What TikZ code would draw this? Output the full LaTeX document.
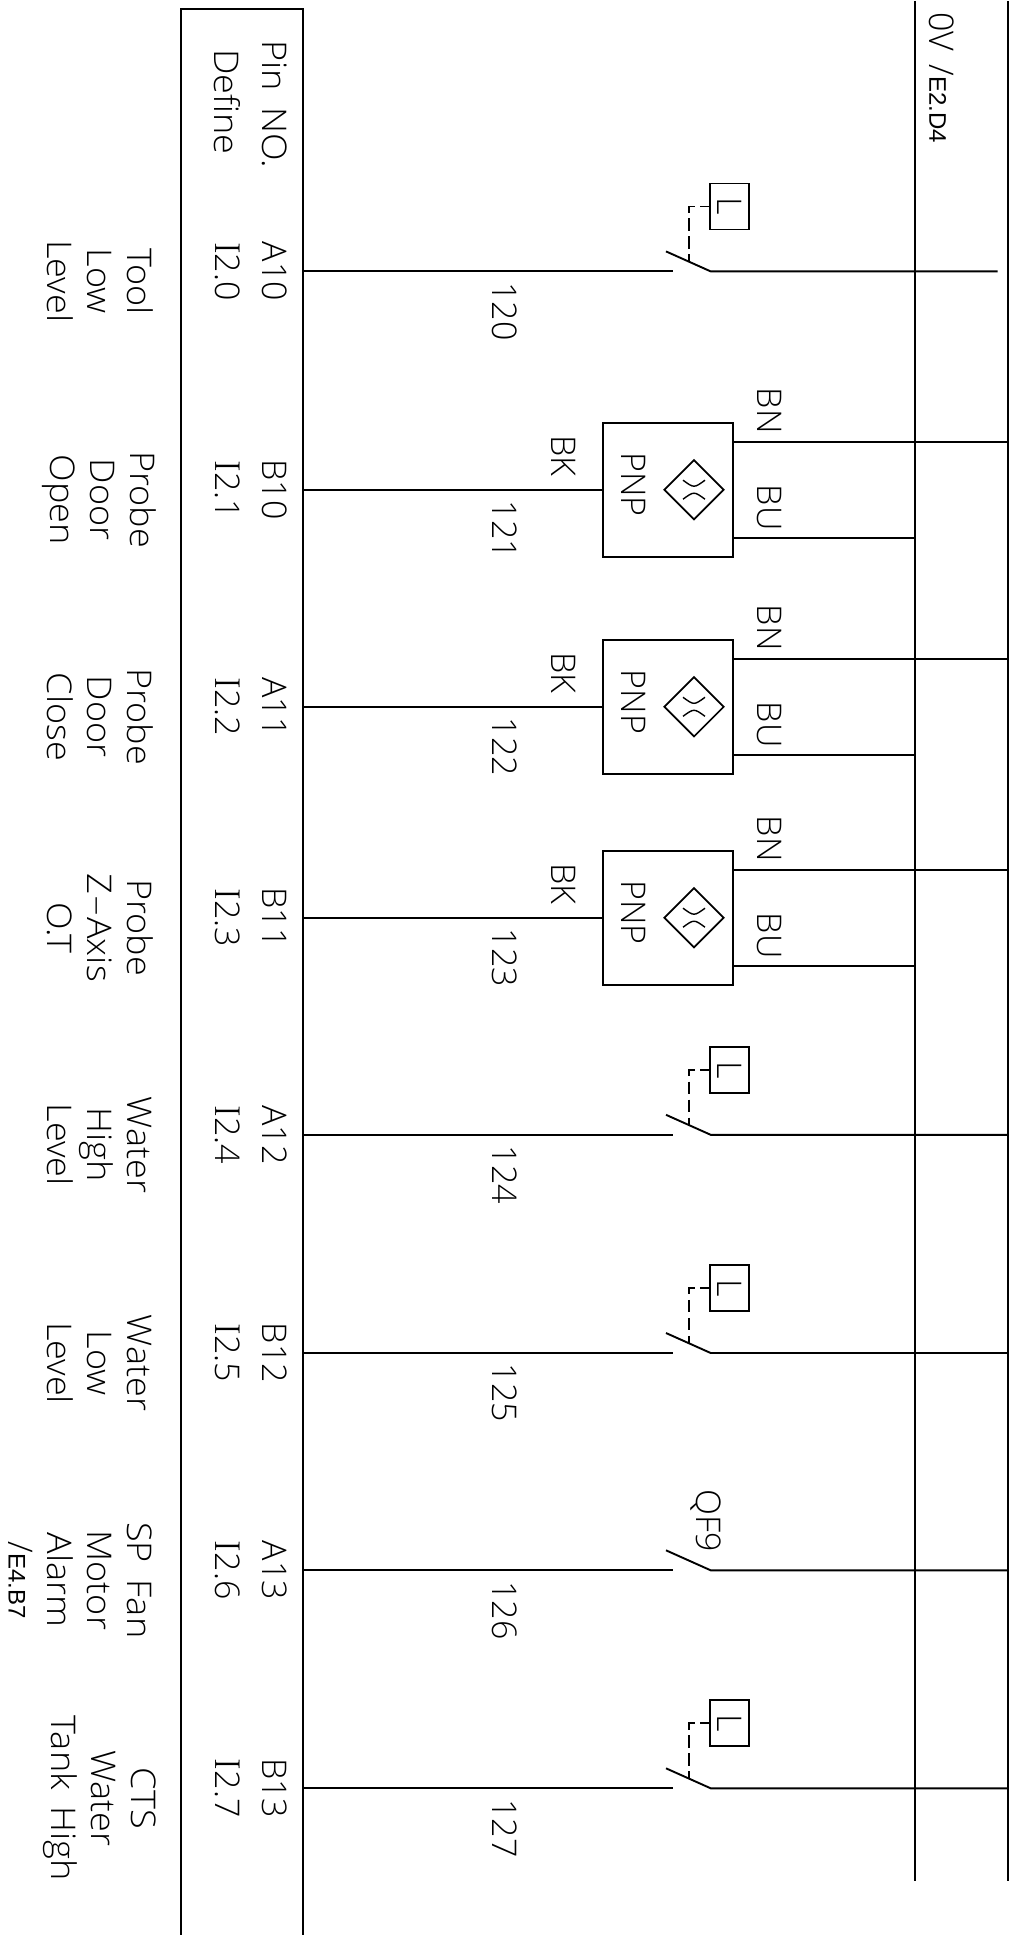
\documentclass[tikz,border=0pt]{standalone}
\usepackage{fontspec}
\setmainfont{Open Sans}[UprightFont=* Light, WordSpace=1.5]
\newfontfamily\wordfont{Open Sans}[UprightFont=* Light, WordSpace=1.8, FakeStretch=1.06]
\newfontfamily\barfont{Latin Modern Roman}
\newfontfamily\reffont{Liberation Sans}
\usetikzlibrary{shapes.geometric}
\newcommand{\barI}{{\barfont\fontsize{36}{40}\selectfont I}}
\newcommand{\longdash}{{\addfontfeature{FakeStretch=2.1}-}}
\newcommand{\smalltag}{\reffont\fontsize{24}{30}\selectfont}
\tikzstyle{wire} = [line width=1.9pt]
\tikzstyle{dashwire} = [line width=1.7pt, dash pattern=on 12.5pt off 5.5pt, dash phase=3.8pt]
\tikzstyle{thin wire} = [line width=1.4pt]
\tikzstyle{tag} = [inner sep=0pt, align=center, font=\fontsize{34}{40}\selectfont, rotate=-90]
\tikzstyle{fntag} = [inner sep=0pt, align=center, font=\wordfont\fontsize{34}{40}\selectfont, rotate=-90]
\tikzstyle{levelbox} = [rectangle, draw=black, line width=1.7pt, inner sep=0pt, minimum width=46pt, minimum height=39pt, font=\fontsize{34}{40}\selectfont, rotate=-90]
\tikzstyle{sensor} = [rectangle, draw=black, line width=1.7pt, minimum width=130pt, minimum height=134pt]
\tikzstyle{probe} = [diamond, draw=black, line width=1.7pt, inner sep=0pt, minimum width=60pt, minimum height=60pt]

\begin{document}
\begin{tikzpicture}[x=1pt, y=-1pt, node distance=30pt]
            \useasboundingbox (0,0) rectangle (1009,1935);

            \coordinate (bus0t) at (915,1);
            \coordinate (bus0b) at (915,1880.7);
            \coordinate (busrt) at (1007.7,1);
            \coordinate (busrb) at (1007.7,1880.7);
            \coordinate (frameb) at (181,1935);
            \coordinate (framet) at (181,8.7);
            \coordinate (framer) at (303.3,8.7);
            \coordinate (framec) at (303.3,1935);
            \draw [wire] (frameb) -- (framet) -- (framer) -- (framec);
            \draw [wire] (bus0t) -- (bus0b);
            \draw [wire] (busrt) -- (busrb);

            \node (bus0tag) [tag] at (941.5,77.7) {0V /{\smalltag E2.D4}};
            \node (pinhead) [fntag] at (275,104) {Pin NO.};
            \node (defhead) [left of=pinhead, xshift=-18pt, yshift=2pt, fntag] {Define};

            % row 0
            \coordinate (w0) at (303.3,271.4);
            \node (pin0) [left of=w0, xshift=1.5pt, tag] {A10};
            \node (io0) [left of=pin0, xshift=-17pt, tag] {\barI 2.0};
            \node (fn0) [left of=io0, xshift=-98pt, yshift=-10pt, fntag] {Tool\\Low\\Level};
            \node (no0) [right of=w0, xshift=171.7pt, yshift=-40pt, tag] {120};
            \coordinate [right of=w0, xshift=340pt] (s0);
            \coordinate [right of=s0, xshift=7.4pt] (p0);
            \coordinate [left of=p0, xshift=-14.7pt, yshift=20pt] (t0);
            \coordinate [right of=t0, xshift=-7.3pt, yshift=-10pt] (b0);
            \coordinate (e0) at (997.5,271.4);
            \node (lvl0) [right of=p0, xshift=-11.2pt, yshift=65pt, levelbox] {L};
            \draw [wire] (w0) -- (s0);
            \draw [wire] (t0) -- (p0) -- (e0);
            \draw [dashwire] (lvl0.south) -| (b0);

            % row 1
            \coordinate (w1) at (303.3,489.7);
            \node (pin1) [left of=w1, xshift=1.5pt, tag] {B10};
            \node (io1) [left of=pin1, xshift=-17pt, tag] {\barI 2.1};
            \node (fn1) [left of=io1, xshift=-98pt, yshift=-10pt, fntag] {Probe\\Door\\Open};
            \node (no1) [right of=w1, xshift=171.7pt, yshift=-40pt, tag] {121};
            \node (sens1) [right of=w1, xshift=335pt, sensor] {};
            \node (dia1) [right of=sens1, xshift=-4.3pt, probe] {};
            \node (pnp1) [left of=dia1, xshift=-30pt, yshift=5pt, tag] {PNP};
            \node (bk1) [left of=sens1, xshift=-74.3pt, yshift=34pt, tag] {BK};
            \node (bn1) [right of=sens1, xshift=71pt, yshift=79pt, tag] {BN};
            \node (bu1) [right of=sens1, xshift=71pt, yshift=-18pt, tag] {BU};
            \coordinate (bnl1) at ([yshift=48pt]sens1.east);
            \coordinate (bul1) at ([yshift=-48.5pt]sens1.east);
            \draw [wire] (w1) -- (sens1.west);
            \draw [wire] (bnl1) -- (bnl1 -| busrt);
            \draw [wire] (bul1) -- (bul1 -| bus0t);
            \draw [thin wire] ([xshift=-11pt,yshift=9.5pt]dia1.center) .. controls ([yshift=1.5pt]dia1.center) .. ([xshift=11pt,yshift=9.5pt]dia1.center);
            \draw [thin wire] ([xshift=-11pt,yshift=-9.5pt]dia1.center) .. controls ([yshift=-1.5pt]dia1.center) .. ([xshift=11pt,yshift=-9.5pt]dia1.center);

            % row 2
            \coordinate (w2) at (303.3,706.8);
            \node (pin2) [left of=w2, xshift=1.5pt, tag] {A11};
            \node (io2) [left of=pin2, xshift=-17pt, tag] {\barI 2.2};
            \node (fn2) [left of=io2, xshift=-98pt, yshift=-10pt, fntag] {Probe\\Door\\Close};
            \node (no2) [right of=w2, xshift=171.7pt, yshift=-40pt, tag] {122};
            \node (sens2) [right of=w2, xshift=335pt, sensor] {};
            \node (dia2) [right of=sens2, xshift=-4.3pt, probe] {};
            \node (pnp2) [left of=dia2, xshift=-30pt, yshift=5pt, tag] {PNP};
            \node (bk2) [left of=sens2, xshift=-74.3pt, yshift=34pt, tag] {BK};
            \node (bn2) [right of=sens2, xshift=71pt, yshift=79pt, tag] {BN};
            \node (bu2) [right of=sens2, xshift=71pt, yshift=-18pt, tag] {BU};
            \coordinate (bnl2) at ([yshift=48pt]sens2.east);
            \coordinate (bul2) at ([yshift=-48.5pt]sens2.east);
            \draw [wire] (w2) -- (sens2.west);
            \draw [wire] (bnl2) -- (bnl2 -| busrt);
            \draw [wire] (bul2) -- (bul2 -| bus0t);
            \draw [thin wire] ([xshift=-11pt,yshift=9.5pt]dia2.center) .. controls ([yshift=1.5pt]dia2.center) .. ([xshift=11pt,yshift=9.5pt]dia2.center);
            \draw [thin wire] ([xshift=-11pt,yshift=-9.5pt]dia2.center) .. controls ([yshift=-1.5pt]dia2.center) .. ([xshift=11pt,yshift=-9.5pt]dia2.center);

            % row 3
            \coordinate (w3) at (303.3,917.7);
            \node (pin3) [left of=w3, xshift=1.5pt, tag] {B11};
            \node (io3) [left of=pin3, xshift=-17pt, tag] {\barI 2.3};
            \node (fn3) [left of=io3, xshift=-98pt, yshift=-10pt, fntag] {Probe\\Z\longdash Axis\\O.T};
            \node (no3) [right of=w3, xshift=171.7pt, yshift=-40pt, tag] {123};
            \node (sens3) [right of=w3, xshift=335pt, sensor] {};
            \node (dia3) [right of=sens3, xshift=-4.3pt, probe] {};
            \node (pnp3) [left of=dia3, xshift=-30pt, yshift=5pt, tag] {PNP};
            \node (bk3) [left of=sens3, xshift=-74.3pt, yshift=34pt, tag] {BK};
            \node (bn3) [right of=sens3, xshift=71pt, yshift=79pt, tag] {BN};
            \node (bu3) [right of=sens3, xshift=71pt, yshift=-18pt, tag] {BU};
            \coordinate (bnl3) at ([yshift=48pt]sens3.east);
            \coordinate (bul3) at ([yshift=-48.5pt]sens3.east);
            \draw [wire] (w3) -- (sens3.west);
            \draw [wire] (bnl3) -- (bnl3 -| busrt);
            \draw [wire] (bul3) -- (bul3 -| bus0t);
            \draw [thin wire] ([xshift=-11pt,yshift=9.5pt]dia3.center) .. controls ([yshift=1.5pt]dia3.center) .. ([xshift=11pt,yshift=9.5pt]dia3.center);
            \draw [thin wire] ([xshift=-11pt,yshift=-9.5pt]dia3.center) .. controls ([yshift=-1.5pt]dia3.center) .. ([xshift=11pt,yshift=-9.5pt]dia3.center);

            % row 4
            \coordinate (w4) at (303.3,1134.8);
            \node (pin4) [left of=w4, xshift=1.5pt, tag] {A12};
            \node (io4) [left of=pin4, xshift=-17pt, tag] {\barI 2.4};
            \node (fn4) [left of=io4, xshift=-98pt, yshift=-10pt, fntag] {Water\\High\\Level};
            \node (no4) [right of=w4, xshift=171.7pt, yshift=-40pt, tag] {124};
            \coordinate [right of=w4, xshift=340pt] (s4);
            \coordinate [right of=s4, xshift=7.4pt] (p4);
            \coordinate [left of=p4, xshift=-14.7pt, yshift=20pt] (t4);
            \coordinate [right of=t4, xshift=-7.3pt, yshift=-10pt] (b4);
            \node (lvl4) [right of=p4, xshift=-11.2pt, yshift=65pt, levelbox] {L};
            \draw [wire] (w4) -- (s4);
            \draw [wire] (t4) -- (p4) -- (p4 -| busrt);
            \draw [dashwire] (lvl4.south) -| (b4);

            % row 5
            \coordinate (w5) at (303.3,1353);
            \node (pin5) [left of=w5, xshift=1.5pt, tag] {B12};
            \node (io5) [left of=pin5, xshift=-17pt, tag] {\barI 2.5};
            \node (fn5) [left of=io5, xshift=-98pt, yshift=-10pt, fntag] {Water\\Low\\Level};
            \node (no5) [right of=w5, xshift=171.7pt, yshift=-40pt, tag] {125};
            \coordinate [right of=w5, xshift=340pt] (s5);
            \coordinate [right of=s5, xshift=7.4pt] (p5);
            \coordinate [left of=p5, xshift=-14.7pt, yshift=20pt] (t5);
            \coordinate [right of=t5, xshift=-7.3pt, yshift=-10pt] (b5);
            \node (lvl5) [right of=p5, xshift=-11.2pt, yshift=65pt, levelbox] {L};
            \draw [wire] (w5) -- (s5);
            \draw [wire] (t5) -- (p5) -- (p5 -| busrt);
            \draw [dashwire] (lvl5.south) -| (b5);

            % row 6
            \coordinate (w6) at (303.3,1570.3);
            \node (pin6) [left of=w6, xshift=1.5pt, tag] {A13};
            \node (io6) [left of=pin6, xshift=-17pt, tag] {\barI 2.6};
            \node (fn6) [left of=io6, xshift=-98pt, yshift=-10pt, fntag] {SP Fan\\Motor\\Alarm};
            \node (ref6) [left of=fn6, xshift=-49pt, tag] {/{\smalltag E4.B7}};
            \node (no6) [right of=w6, xshift=171.7pt, yshift=-40pt, tag] {126};
            \coordinate [right of=w6, xshift=340pt] (s6);
            \coordinate [right of=s6, xshift=7.4pt] (p6);
            \coordinate [left of=p6, xshift=-14.7pt, yshift=20pt] (t6);
            \node (qf6) [left of=p6, xshift=25.3pt, yshift=49.5pt, tag] {QF9};
            \draw [wire] (w6) -- (s6);
            \draw [wire] (t6) -- (p6) -- (p6 -| busrt);

            % row 7
            \coordinate (w7) at (303.3,1788.3);
            \node (pin7) [left of=w7, xshift=1.5pt, tag] {B13};
            \node (io7) [left of=pin7, xshift=-17pt, tag] {\barI 2.7};
            \node (fn7) [left of=io7, xshift=-98pt, yshift=-10pt, fntag] {CTS\\Water\\Tank High};
            \node (no7) [right of=w7, xshift=171.7pt, yshift=-40pt, tag] {127};
            \coordinate [right of=w7, xshift=340pt] (s7);
            \coordinate [right of=s7, xshift=7.4pt] (p7);
            \coordinate [left of=p7, xshift=-14.7pt, yshift=20pt] (t7);
            \coordinate [right of=t7, xshift=-7.3pt, yshift=-10pt] (b7);
            \node (lvl7) [right of=p7, xshift=-11.2pt, yshift=65pt, levelbox] {L};
            \draw [wire] (w7) -- (s7);
            \draw [wire] (t7) -- (p7) -- (p7 -| busrt);
            \draw [dashwire] (lvl7.south) -| (b7);
\end{tikzpicture}
\end{document}
